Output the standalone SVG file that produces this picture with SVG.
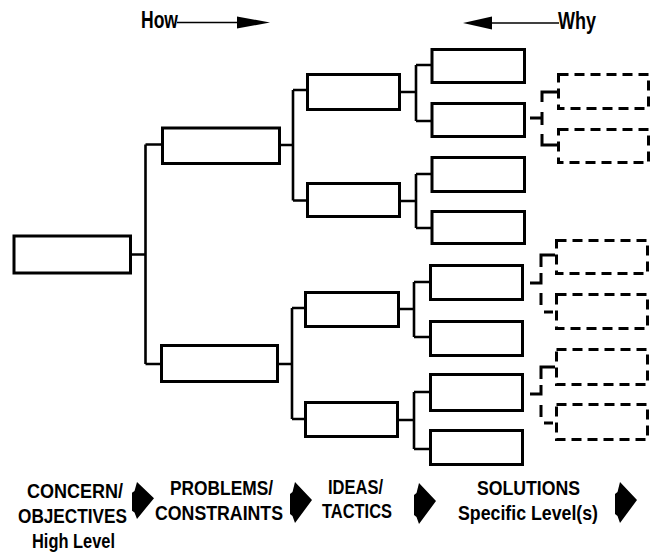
<svg xmlns="http://www.w3.org/2000/svg" width="655" height="554" viewBox="0 0 655 554">
<style>
.box{fill:#fff;stroke:#000;stroke-width:3}
.dbox{fill:none;stroke:#000;stroke-width:3;stroke-dasharray:10,6}
.ln{fill:none;stroke:#000;stroke-width:2.6}
.br{fill:none;stroke:#000;stroke-width:3}
.thin{fill:none;stroke:#000;stroke-width:1.6}
.t{font-family:"Liberation Sans",Arial,sans-serif;font-weight:bold;font-size:21px;fill:#000}
.h{font-family:"Liberation Sans",Arial,sans-serif;font-weight:bold;font-size:23px;fill:#000}
</style>
<defs>
<path id="arr" d="M5,0 L22,18 L5,41 L2.5,34 L0,32 L0,12 L2.5,10 Z" fill="#000"/>
</defs>
<rect width="655" height="554" fill="#fff"/>

<g id="connectors">
<path class="ln" d="M131,254.5 H145.5 M145.5,144.5 V364 M145.5,144.5 H162 M145.5,364 H161"/>
<path class="ln" d="M281,145 H293 M293,90 V200.5 M293,90 H307 M293,200.5 H307"/>
<path class="ln" d="M279,364 H292 M292,308 V419 M292,308 H304 M292,419 H304"/>
<path class="ln" d="M401,92 H416 M416,65 V121 M416,65 H431 M416,121 H431"/>
<path class="ln" d="M401,201 H416 M416,174 V228 M416,174 H431 M416,228 H431"/>
<path class="ln" d="M400,309 H414 M414,282 V337 M414,282 H429 M414,337 H429"/>
<path class="ln" d="M399,420 H414 M414,392 V449 M414,392 H429 M414,449 H429"/>
<path class="br" d="M530,118 H542 M557,92 H542 V102 M542,112 V125 M542,134 V145 H557"/>
<path class="br" d="M555,255 H541 V267 M541,273 V283 H530 M541,293 V305 M544,312 H553"/>
<path class="br" d="M555,367 H541 V379 M541,385 V394 H530 M541,405 V417 M544,423 H553"/>
</g>

<g id="root"><rect class="box" x="14" y="236" width="116.5" height="37"/></g>
<g id="p1"><rect class="box" x="162.5" y="128" width="117" height="35.5"/></g>
<g id="p2"><rect class="box" x="161.5" y="345.5" width="116" height="36"/></g>
<g id="i1"><rect class="box" x="307.5" y="74.5" width="92" height="35"/></g>
<g id="i2"><rect class="box" x="307.5" y="183.5" width="92" height="33"/></g>
<g id="i3"><rect class="box" x="305.5" y="292.5" width="93" height="34"/></g>
<g id="i4"><rect class="box" x="305.5" y="402.5" width="92" height="34"/></g>
<g id="s1"><rect class="box" x="432" y="49.5" width="92.5" height="33"/></g>
<g id="s2"><rect class="box" x="432" y="103.5" width="92.5" height="33"/></g>
<g id="s3"><rect class="box" x="432" y="157.5" width="92.5" height="34"/></g>
<g id="s4"><rect class="box" x="432" y="211.5" width="92.5" height="32"/></g>
<g id="s5"><rect class="box" x="430.5" y="265.5" width="92" height="34"/></g>
<g id="s6"><rect class="box" x="430.5" y="321.5" width="92" height="34"/></g>
<g id="s7"><rect class="box" x="430.5" y="374.5" width="92" height="36"/></g>
<g id="s8"><rect class="box" x="430.5" y="430.5" width="92" height="34"/></g>
<g id="d1"><rect class="dbox" x="558.5" y="74.5" width="90" height="34"/></g>
<g id="d2"><rect class="dbox" x="558.5" y="129.5" width="90" height="33"/></g>
<g id="d3"><rect class="dbox" x="556.5" y="240.5" width="91" height="33"/></g>
<g id="d4"><rect class="dbox" x="556.5" y="294.5" width="91" height="34"/></g>
<g id="d5"><rect class="dbox" x="556.5" y="349.5" width="91" height="35"/></g>
<g id="d6"><rect class="dbox" x="556.5" y="404.5" width="91" height="35"/></g>

<g id="how">
<text class="h" x="141" y="28" textLength="37" lengthAdjust="spacingAndGlyphs">How</text>
<path class="thin" d="M177,22.5 H238"/>
<path d="M237,16.5 L270,22.5 L237,28.5 Z" fill="#000"/>
</g>
<g id="why">
<text class="h" x="558" y="29" textLength="38" lengthAdjust="spacingAndGlyphs">Why</text>
<path class="thin" d="M491,23 H559"/>
<path d="M463,23 L492,16.5 L492,29.5 Z" fill="#000"/>
</g>

<g id="labels">
<text class="t" x="27" y="498" textLength="96" lengthAdjust="spacingAndGlyphs">CONCERN/</text>
<text class="t" x="18" y="523" textLength="109" lengthAdjust="spacingAndGlyphs">OBJECTIVES</text>
<text class="t" x="32" y="548" textLength="83" lengthAdjust="spacingAndGlyphs">High Level</text>
<text class="t" x="170" y="495" textLength="103" lengthAdjust="spacingAndGlyphs">PROBLEMS/</text>
<text class="t" x="155" y="520" textLength="128" lengthAdjust="spacingAndGlyphs">CONSTRAINTS</text>
<text class="t" x="328" y="494" textLength="55" lengthAdjust="spacingAndGlyphs">IDEAS/</text>
<text class="t" x="322" y="518" textLength="70" lengthAdjust="spacingAndGlyphs">TACTICS</text>
<text class="t" x="477" y="495" textLength="103" lengthAdjust="spacingAndGlyphs">SOLUTIONS</text>
<text class="t" x="458" y="520" textLength="140" lengthAdjust="spacingAndGlyphs">Specific Level(s)</text>
<use href="#arr" transform="translate(132,482) scale(1,0.9)"/>
<use href="#arr" transform="translate(290,482)"/>
<use href="#arr" transform="translate(414,483)"/>
<use href="#arr" transform="translate(615,482)"/>
</g>
</svg>
